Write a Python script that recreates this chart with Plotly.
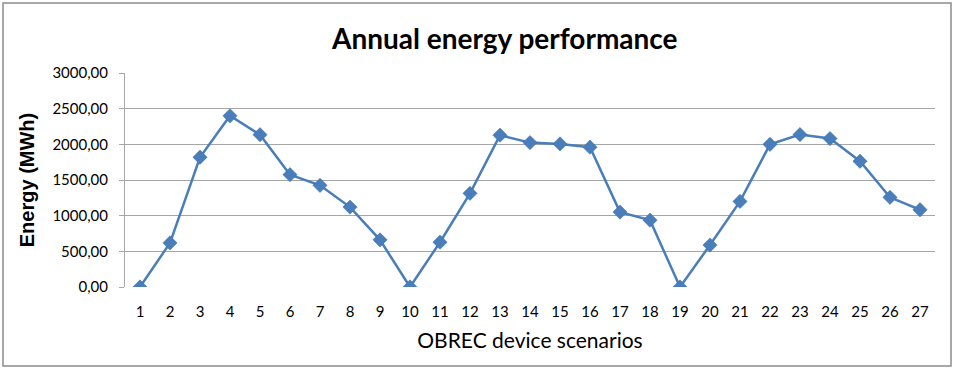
import plotly.graph_objects as go

scenarios = list(range(1, 28))
energy = [0, 618, 1819, 2400, 2135, 1575, 1425, 1120, 661, 0,
          628, 1313, 2128, 2024, 2006, 1960, 1050, 937, 0, 588,
          1200, 2000, 2137, 2081, 1763, 1257, 1083]
y_ticks = [0, 500, 1000, 1500, 2000, 2500, 3000]

W, H = 957, 371
L, R, T, B = 125, 22, 73, 84
pw, ph = W - L - R, H - T - B

def px_x(p):
    return (p - L) / pw

def px_y(p):
    return (H - B - p) / ph

fig = go.Figure()
fig.add_trace(go.Scatter(
    x=scenarios, y=energy, mode="lines+markers",
    line=dict(color="#4A7EBB", width=2.5),
    marker=dict(symbol="diamond", size=11, color="#4A7EBB",
                line=dict(color="#3F6FA8", width=0.5)),
    showlegend=False,
))

fig.update_layout(
    width=W, height=H,
    margin=dict(l=L, r=R, t=T, b=B),
    paper_bgcolor="white", plot_bgcolor="white",
    separators=",.",
    font=dict(family="Lato, Calibri, sans-serif", color="#000000"),
    xaxis=dict(
        range=[0.5, 27.5], tickmode="array", tickvals=scenarios,
        ticktext=[str(s) for s in scenarios],
        showgrid=False, zeroline=False, showline=False,
        ticks="", tickfont=dict(size=15, family="Lato"),
        ticklabelstandoff=14,
        title=dict(text="OBREC device scenarios",
                   font=dict(size=21, family="Lato"), standoff=14),
    ),
    yaxis=dict(
        range=[0, 3000], tickmode="array", tickvals=y_ticks,
        tickformat=".2f", showgrid=True, gridcolor="#A6A6A6", gridwidth=1,
        zeroline=False, showline=True, linecolor="#A6A6A6", linewidth=1,
        ticks="outside", ticklen=5, tickcolor="#A6A6A6",
        ticklabelstandoff=8,
        tickfont=dict(size=15, family="Lato"),
        title=dict(text="<b>Energy (MWh)</b>",
                   font=dict(size=20, family="Liberation Sans"), standoff=12),
    ),
    annotations=[dict(
        text="<b>Annual energy performance</b>",
        xref="paper", yref="paper", x=px_x(504), y=px_y(38),
        xanchor="center", yanchor="middle", showarrow=False,
        font=dict(size=28, family="Lato"),
    )],
    shapes=[dict(
        type="rect", xref="paper", yref="paper",
        x0=px_x(3), x1=px_x(951), y0=px_y(366), y1=px_y(3),
        line=dict(color="#8C8C8C", width=1.5), fillcolor="rgba(0,0,0,0)",
        layer="below",
    )],
)

fig.write_html("out.html", config={"displayModeBar": False},
               post_script="document.body.style.margin='0';document.body.style.overflow='hidden';")
